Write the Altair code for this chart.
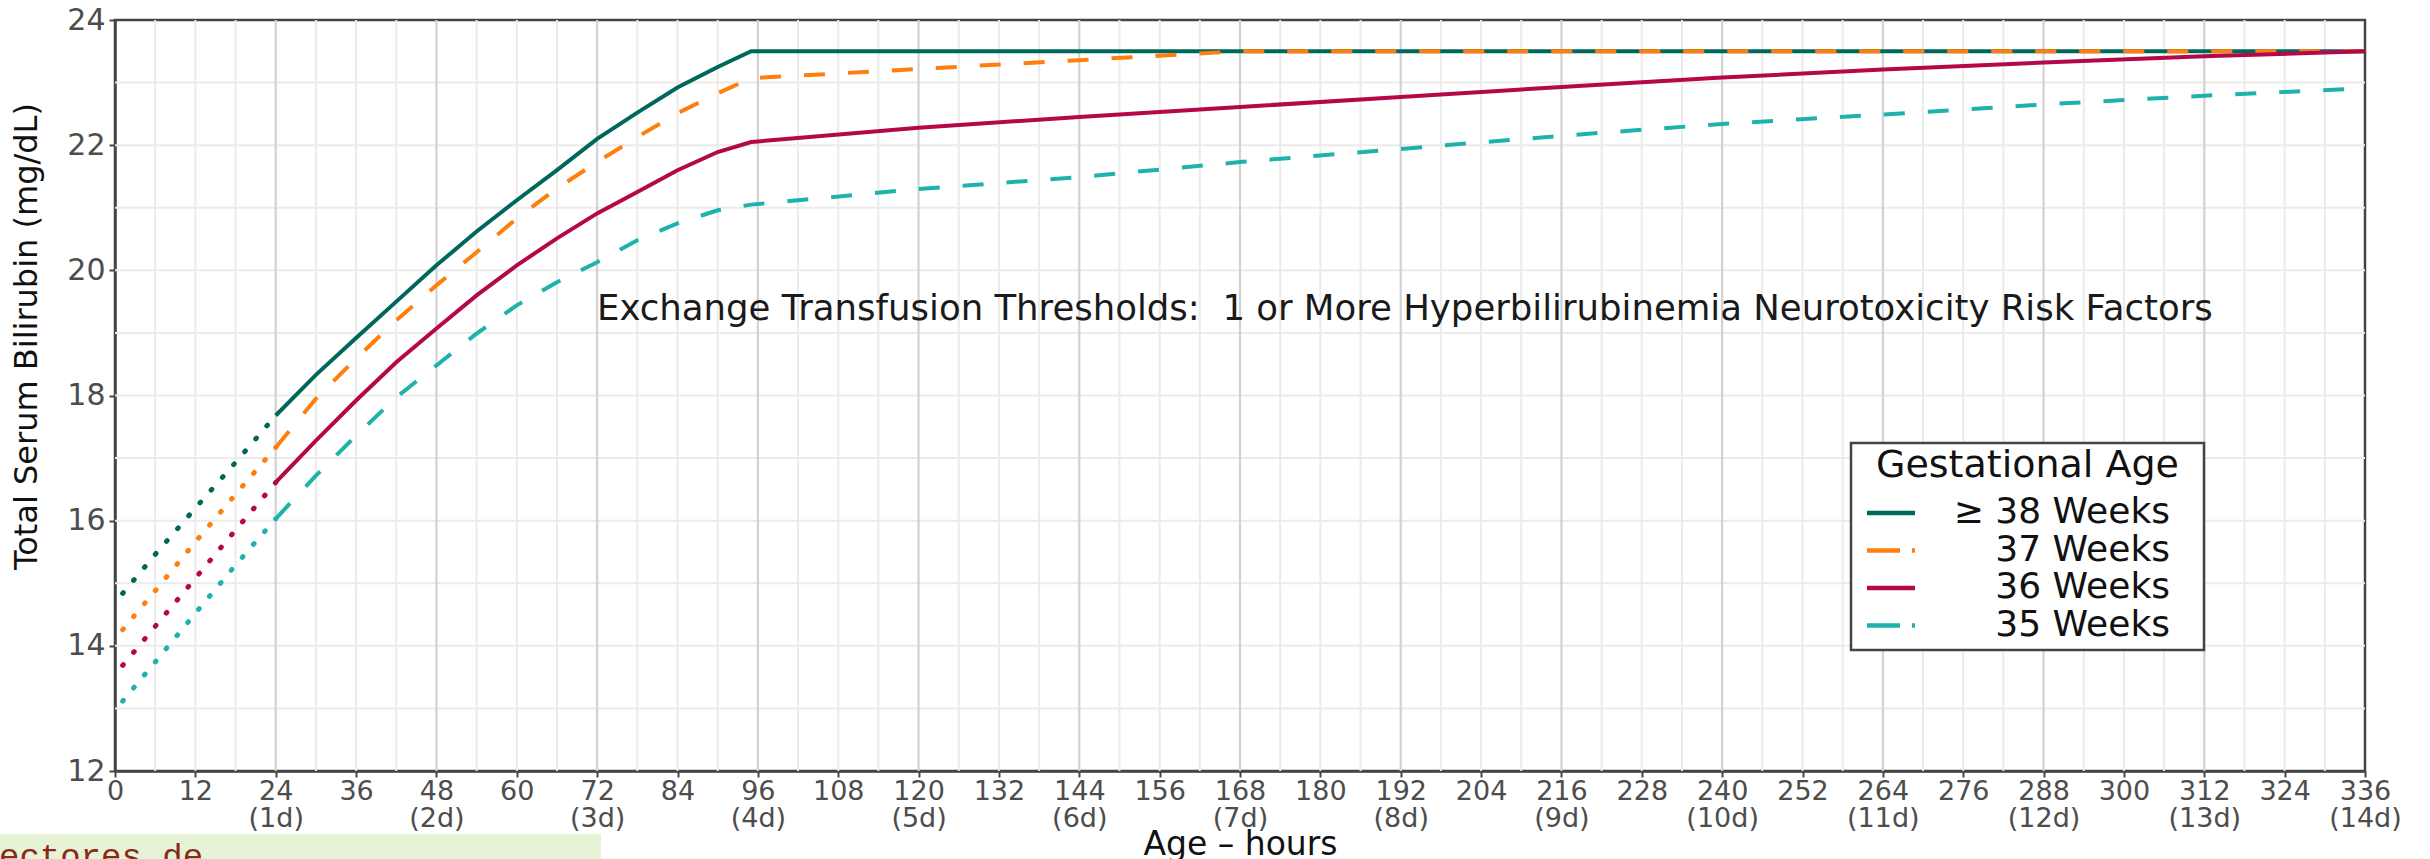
import altair as alt
import pandas as pd

# ---------------- data ----------------
SERIES = ["≥ 38 Weeks", "37 Weeks", "36 Weeks", "35 Weeks"]
COLORS = ["#00675B", "#FF7F0E", "#B5084A", "#1DB3AC"]
DASHED = [False, True, False, True]

# early (dotted) part, 0-24 h
DOT_HOURS = [0, 6, 12, 18, 24]
DOT_38 = [14.69, 15.46, 16.20, 16.93, 17.68]
DOT_37 = [14.11, 14.88, 15.66, 16.42, 17.17]
DOT_36 = [13.54, 14.31, 15.08, 15.85, 16.61]
DOT_35 = [12.97, 13.74, 14.52, 15.29, 16.03]

# main part, 24-336 h
H_38 = [24, 30, 36, 42, 48, 54, 60, 66, 72, 78, 84, 90, 95, 336]
V_38 = [17.68, 18.33, 18.92, 19.50, 20.08, 20.62, 21.12, 21.60, 22.10, 22.52,
        22.92, 23.25, 23.50, 23.50]
H_37 = [24, 30, 36, 42, 48, 54, 60, 66, 72, 78, 84, 90, 95, 168, 336]
V_37 = [17.17, 17.95, 18.59, 19.20, 19.76, 20.29, 20.83, 21.31, 21.73, 22.13,
        22.51, 22.83, 23.07, 23.50, 23.50]
H_36 = [24, 30, 36, 42, 48, 54, 60, 66, 72, 78, 84, 90, 95,
        120, 144, 168, 192, 216, 240, 264, 288, 312, 336]
V_36 = [16.61, 17.28, 17.92, 18.53, 19.07, 19.60, 20.08, 20.51, 20.91, 21.25,
        21.60, 21.89, 22.05, 22.28, 22.45, 22.61, 22.77, 22.93, 23.08, 23.21,
        23.32, 23.42, 23.50]
H_35 = [24, 30, 36, 42, 48, 54, 60, 66, 72, 78, 84, 90, 95,
        120, 144, 168, 192, 216, 240, 264, 288, 312, 336]
V_35 = [16.03, 16.72, 17.36, 17.97, 18.48, 18.99, 19.44, 19.81, 20.13, 20.48,
        20.75, 20.96, 21.05, 21.30, 21.49, 21.73, 21.94, 22.15, 22.34, 22.49,
        22.65, 22.79, 22.91]

X_TICKS = [0, 12, 24, 36, 48, 60, 72, 84, 96, 108, 120, 132, 144, 156, 168, 180,
           192, 204, 216, 228, 240, 252, 264, 276, 288, 300, 312, 324, 336]
Y_TICKS = [12, 14, 16, 18, 20, 22, 24]
GRID_X_MINOR = [6, 12, 18, 30, 36, 42, 54, 60, 66, 78, 84, 90, 102, 108, 114,
                126, 132, 138, 150, 156, 162, 174, 180, 186, 198, 204, 210, 222,
                228, 234, 246, 252, 258, 270, 276, 282, 294, 300, 306, 318, 324, 330]
GRID_X_MAJOR = [24, 48, 72, 96, 120, 144, 168, 192, 216, 240, 264, 288, 312]
GRID_Y = [13, 14, 15, 16, 17, 18, 19, 20, 21, 22, 23]

ANNOTATION = "Exchange Transfusion Thresholds:\u00a0 1 or More Hyperbilirubinemia Neurotoxicity Risk Factors"
LEGEND_TITLE = "Gestational Age"
CORNER_TEXT = "ectores de"

# ---------------- layout ----------------
W, H = 2250, 751
PAD = {"left": 115, "top": 20, "right": 65, "bottom": 88}
FONT = "DejaVu Sans"

XS = alt.Scale(domain=[0, 336], nice=False, zero=False)
YS = alt.Scale(domain=[12, 24], nice=False, zero=False)

X_AXIS = alt.Axis(
    values=X_TICKS, grid=False, domain=True, domainColor="#444", domainWidth=2.5,
    ticks=True, tickColor="#444", tickWidth=2, tickSize=6,
    labelFont=FONT, labelFontSize=27, labelColor="#4d4d4d", labelPadding=1,
    labelLineHeight=27, labelFlush=False, labelOverlap=False, labelBaseline="top",
    labelExpr="datum.value > 0 && datum.value % 24 === 0 ? [datum.label, '(' + (datum.value / 24) + 'd)'] : datum.label",
    title="Age – hours", titleFont=FONT, titleFontSize=33, titleFontWeight="normal",
    titleColor="#111", titleX=W / 2, titleY=83, titleAlign="center",
    titleBaseline="alphabetic",
)
Y_AXIS = alt.Axis(
    values=Y_TICKS, grid=False, domain=True, domainColor="#444", domainWidth=2.5,
    ticks=True, tickColor="#444", tickWidth=2, tickSize=6,
    labelFont=FONT, labelFontSize=30, labelColor="#4d4d4d", labelPadding=4,
    labelFlush=False, labelOverlap=False, labelBaseline="middle",
    title="Total Serum Bilirubin (mg/dL)", titleFont=FONT, titleFontSize=32,
    titleFontWeight="normal", titleColor="#111", titleAngle=270, titleX=-79,
    titleY=316, titleAlign="center", titleBaseline="alphabetic",
)


def xenc():
    return alt.X("hour:Q", scale=XS, axis=X_AXIS)


def yenc():
    return alt.Y("value:Q", scale=YS, axis=Y_AXIS)


layers = []

# corner artifact (green box with cut text)
layers.append(
    alt.Chart(pd.DataFrame({"a": [0]})).mark_rect(fill="#E7F3D6").encode(
        x=alt.value(-PAD["left"]), x2=alt.value(601 - PAD["left"]),
        y=alt.value(834 - PAD["top"]), y2=alt.value(880 - PAD["top"]))
)
layers.append(
    alt.Chart(pd.DataFrame({"t": [CORNER_TEXT]})).mark_text(
        align="left", baseline="alphabetic", font="Liberation Mono", fontSize=34,
        color="#8B2A1A").encode(
        x=alt.value(-PAD["left"] - 1), y=alt.value(867 - PAD["top"]), text="t:N")
)

# grid
layers.append(alt.Chart(pd.DataFrame({"value": GRID_Y})).mark_rule(
    color="#ebebeb", strokeWidth=2).encode(y=yenc()))
layers.append(alt.Chart(pd.DataFrame({"hour": GRID_X_MINOR})).mark_rule(
    color="#ebebeb", strokeWidth=2).encode(x=xenc()))
layers.append(alt.Chart(pd.DataFrame({"hour": GRID_X_MAJOR})).mark_rule(
    color="#d2d2d2", strokeWidth=2.2).encode(x=xenc()))

dots = [DOT_38, DOT_37, DOT_36, DOT_35]
mains = [(H_38, V_38), (H_37, V_37), (H_36, V_36), (H_35, V_35)]

for i in range(4):
    ddf = pd.DataFrame({"hour": DOT_HOURS, "value": dots[i]})
    layers.append(alt.Chart(ddf).mark_line(
        color=COLORS[i], strokeWidth=5, strokeCap="round",
        strokeDash=[1, 16], strokeDashOffset=5).encode(x=xenc(), y=yenc()))
for i in range(4):
    mdf = pd.DataFrame({"hour": mains[i][0], "value": mains[i][1]})
    kw = dict(color=COLORS[i], strokeWidth=4, strokeJoin="miter")
    if DASHED[i]:
        kw["strokeDash"] = [21, 23]
    layers.append(alt.Chart(mdf).mark_line(**kw).encode(x=xenc(), y=yenc()))

# annotation
layers.append(
    alt.Chart(pd.DataFrame({"t": [ANNOTATION]})).mark_text(
        align="left", baseline="alphabetic", font=FONT, fontSize=35.5,
        color="#1a1a1a").encode(
        x=alt.value(597 - PAD["left"]), y=alt.value(320 - PAD["top"]), text="t:N")
)

# legend (drawn manually)
LX0, LX1, LY0, LY1 = 1851, 2204, 443, 650
layers.append(
    alt.Chart(pd.DataFrame({"a": [0]})).mark_rect(
        fill="white", stroke="#444", strokeWidth=2.5).encode(
        x=alt.value(LX0 - PAD["left"]), x2=alt.value(LX1 - PAD["left"]),
        y=alt.value(LY0 - PAD["top"]), y2=alt.value(LY1 - PAD["top"]))
)
layers.append(
    alt.Chart(pd.DataFrame({"t": [LEGEND_TITLE]})).mark_text(
        align="center", baseline="alphabetic", font=FONT, fontSize=38,
        color="#111").encode(
        x=alt.value((LX0 + LX1) / 2 - PAD["left"]), y=alt.value(477 - PAD["top"]),
        text="t:N")
)
for i in range(4):
    sy = 513 + i * 37.5
    ty = 523 + i * 37.7
    kw = dict(color=COLORS[i], strokeWidth=4.5)
    if DASHED[i]:
        kw["strokeDash"] = [33, 12]
    layers.append(
        alt.Chart(pd.DataFrame({"a": [0]})).mark_rule(**kw).encode(
            x=alt.value(1867 - PAD["left"]), x2=alt.value(1915 - PAD["left"]),
            y=alt.value(sy - PAD["top"]))
    )
    layers.append(
        alt.Chart(pd.DataFrame({"t": [SERIES[i]]})).mark_text(
            align="right", baseline="alphabetic", font=FONT, fontSize=36,
            color="#111").encode(
            x=alt.value(2170 - PAD["left"]), y=alt.value(ty - PAD["top"]), text="t:N")
    )

chart = alt.layer(*layers).properties(
    width=W, height=H, padding=PAD,
    autosize=alt.AutoSizeParams(type="none"),
    background="white",
).configure_view(stroke="#444", strokeWidth=2.5)

chart.save("out.html", embed_options={"renderer": "svg", "actions": False})
